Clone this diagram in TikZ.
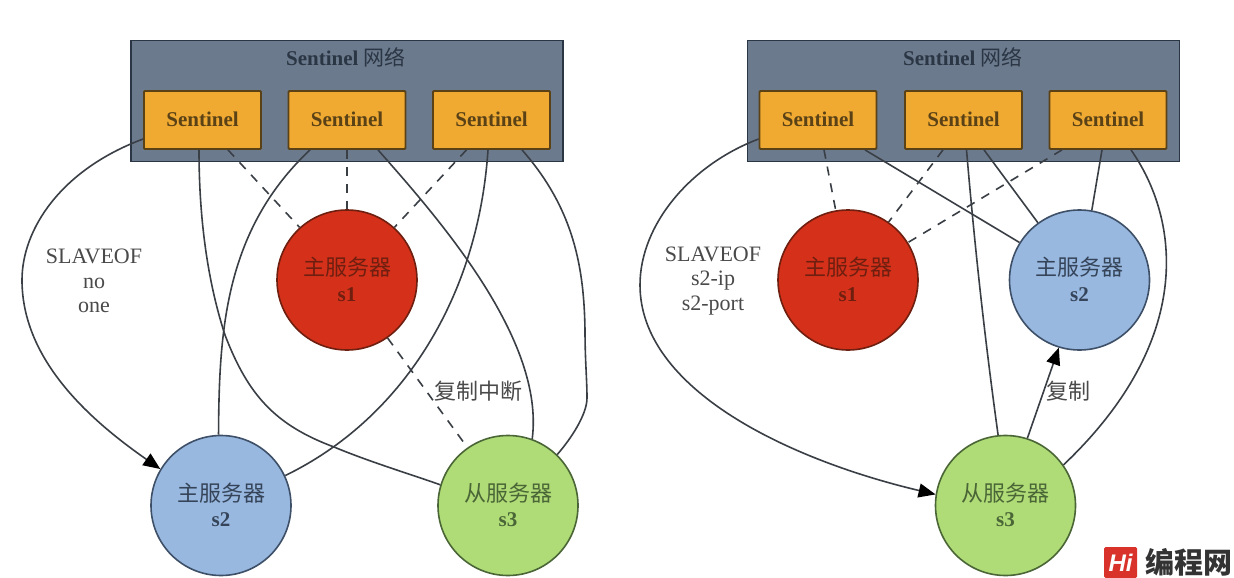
\documentclass[tikz,border=0pt]{standalone}
\usepackage{fontspec}
\setmainfont{Liberation Serif}
\newfontfamily\cjk{Noto Sans CJK SC}
\newfontfamily\logofont{Liberation Sans}
\usetikzlibrary{arrows.meta}
\definecolor{netfill}{HTML}{6C7A8E}
\definecolor{netline}{HTML}{2B3644}
\definecolor{sentfill}{HTML}{F0AA32}
\definecolor{sentline}{HTML}{5A4216}
\definecolor{redfill}{HTML}{D4301A}
\definecolor{redline}{HTML}{6E1F10}
\definecolor{bluefill}{HTML}{98B8E0}
\definecolor{blueline}{HTML}{3E5068}
\definecolor{greenfill}{HTML}{B0DC78}
\definecolor{greenline}{HTML}{4A6636}
\definecolor{edgeline}{HTML}{3A3F46}
\definecolor{lbl}{HTML}{4A4A4A}
\definecolor{logored}{HTML}{D8322A}
\tikzset{
  x=1pt,y=-1pt,
  netbox/.style={rectangle,draw=netline,fill=netfill,line width=1.5pt,minimum width=#1,minimum height=121pt,inner sep=0pt},
  sentbox/.style={rectangle,rounded corners=1pt,draw=sentline,fill=sentfill,line width=1.8pt,minimum width=117pt,minimum height=58pt,inner sep=0pt,font=\bfseries\fontsize{21}{23}\selectfont,text=sentline},
  srv/.style={circle,minimum size=140pt,inner sep=0pt,line width=1.6pt,align=center,font=\fontsize{21}{26}\selectfont},
  rednode/.style={srv,draw=redline,fill=redfill,text=redline},
  bluenode/.style={srv,draw=blueline,fill=bluefill,text=blueline!85!black},
  greennode/.style={srv,draw=greenline,fill=greenfill,text=greenline},
  link/.style={draw=edgeline,line width=1.6pt},
  dashlink/.style={draw=edgeline,line width=1.6pt,dash pattern=on 9pt off 8pt},
  arrowlink/.style={link,-{Triangle[length=17pt,width=14pt,fill=black,color=black]}},
  nettitle/.style={inner sep=0pt,text=netline,font=\bfseries\fontsize{21}{23}\selectfont},
  edgelabel/.style={inner sep=0pt,align=center,text=lbl,font=\fontsize{22}{24.5}\selectfont},
  cjklabel/.style={inner sep=0pt,text=lbl,font=\cjk\fontsize{22}{24}\selectfont}
}
\newcommand{\srvtext}[2]{\raisebox{1pt}{\cjk\fontsize{22}{26}\selectfont #1}\\\raisebox{1.5pt}{\bfseries #2}}
\newcommand{\senttext}{\raisebox{1.5pt}{Sentinel}}
\begin{document}
\begin{tikzpicture}
\useasboundingbox (0,0) rectangle (1234,578);
\fill[white] (0,0) rectangle (1234,578);
% left panel
\node[netbox=432pt] (netL) at (347,101) {};
\node[nettitle] (titleL) at (346,57) {Sentinel {\mdseries\cjk 网络}};
\node[sentbox] (a1) at (202.5,120) {\senttext};
\node[sentbox] (a2) at (347,120) {\senttext};
\node[sentbox] (a3) at (491.5,120) {\senttext};
\node[rednode] (s1L) at (347,280) {\srvtext{主服务器}{s1}};
\node[bluenode] (s2L) at (221,505.5) {\srvtext{主服务器}{s2}};
\node[greennode] (s3L) at (508,505.5) {\srvtext{从服务器}{s3}};
\node[edgelabel] (slaveL) at (94,281) {SLAVEOF\\no\\one};
\node[cjklabel] (cutL) at (478,391) {复制中断};
\draw[arrowlink] ([yshift=-19pt]a1.west) .. controls (60,170) and (22,230) .. (22,280) .. controls (22,360) and (90,420) .. (s2L.149);
\draw[link] ([xshift=-3.5pt]a1.south) .. controls (199,235) and (212,295) .. (225,335) .. controls (248,395) and (275,425) .. (334,447) .. controls (370,462) and (410,474) .. (s3L.163);
\draw[link] (s2L.92) .. controls (219,330) and (225,230) .. ([xshift=-37pt]a2.south);
\draw[link] (s2L.25) .. controls (400,420) and (478,300) .. ([xshift=-3.5pt]a3.south);
\draw[link] ([xshift=31pt]a2.south) .. controls (440,220) and (545,340) .. (s3L.70);
\draw[link] ([xshift=30.5pt]a3.south) .. controls (575,210) and (584,270) .. (585,330) .. controls (585,360) and (587,380) .. (587,398) .. controls (587,415) and (570,440) .. (s3L.46);
\draw[dashlink] ([xshift=25.5pt]a1.south) -- (s1L.132);
\draw[dashlink] (a2.south) -- (s1L.90);
\draw[dashlink] ([xshift=-25pt]a3.south) -- (s1L.48);
\draw[dashlink] (s1L.-55) -- (s3L.125);
% right panel
\node[netbox=432pt] (netR) at (963.5,101) {};
\node[nettitle] (titleR) at (963,57) {Sentinel {\mdseries\cjk 网络}};
\node[sentbox] (b1) at (818,120) {\senttext};
\node[sentbox] (b2) at (963.5,120) {\senttext};
\node[sentbox] (b3) at (1108,120) {\senttext};
\node[rednode] (s1R) at (848,280) {\srvtext{主服务器}{s1}};
\node[bluenode] (s2R) at (1079.5,280) {\srvtext{主服务器}{s2}};
\node[greennode] (s3R) at (1005.5,505.5) {\srvtext{从服务器}{s3}};
\node[edgelabel] (slaveR) at (713,281) {SLAVEOF\\s2-ip\\s2-port};
\node[cjklabel] (copyR) at (1068,391) {复制};
\draw[arrowlink] ([yshift=-19pt]b1.west) .. controls (690,165) and (640,225) .. (640,285) .. controls (640,390) and (790,460) .. (s3R.171);
\draw[link] ([xshift=47pt]b1.south) -- (s2R.148);
\draw[link] ([xshift=3pt]b2.south) .. controls (975,250) and (985,340) .. (s3R.96);
\draw[link] ([xshift=20.5pt]b2.south) -- (s2R.126);
\draw[link] ([xshift=-6pt]b3.south) -- (s2R.80);
\draw[link] ([xshift=23pt]b3.south) .. controls (1180,220) and (1195,340) .. (s3R.35);
\draw[arrowlink] (s3R.72) -- (s2R.-107);
\draw[dashlink] ([xshift=6pt]b1.south) -- (s1R.100);
\draw[dashlink] ([xshift=-20.5pt]b2.south) -- (s1R.55);
\draw[dashlink] ([xshift=-46pt]b3.south) -- (s1R.32);
% watermark
\node[rectangle,rounded corners=1.5pt,fill=logored,minimum width=33pt,minimum height=31pt,inner sep=0pt,text=white,font=\logofont\itshape\bfseries\fontsize{24}{24}\selectfont] (logo) at (1120.5,562.5) {Hi};
\node[inner sep=0pt,anchor=west,text=black!80,font=\cjk\bfseries\fontsize{29}{30}\selectfont] (brand) at (1145,562) {编程网};
\end{tikzpicture}
\end{document}
